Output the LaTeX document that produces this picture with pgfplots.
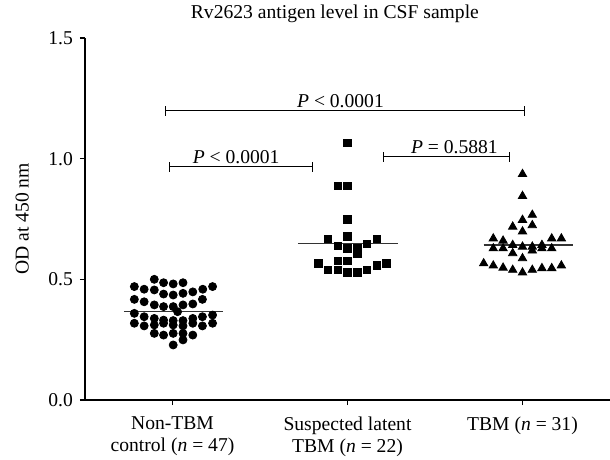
\documentclass[border=0pt]{standalone}
\usepackage{pgfplots}
\pgfplotsset{compat=1.18}
\usepackage{fontspec}
\setmainfont{Liberation Serif}
\begin{document}
\begin{tikzpicture}
\useasboundingbox (-42.5pt,-30pt) rectangle (262.5pt,200pt);
\begin{axis}[
  at={(0,0)}, anchor=south west,
  scale only axis, width=262.5pt, height=181pt,
  xmin=-0.5, xmax=2.5, ymin=0, ymax=1.5,
  axis x line*=bottom, axis y line*=left,
  axis line style={line width=0.6pt},
  tick align=outside, tick style={line width=0.6pt, black},
  major tick length=2.5pt,
  xtick={0,1,2},
  xticklabels={{Non-TBM\\control (\textit{n} = 47)},{Suspected latent\\TBM (\textit{n} = 22)},{TBM (\textit{n} = 31)}},
  xticklabel style={align=center, yshift=-2.5pt, font=\fontsize{9.8}{10.8}\selectfont},
  ytick={0,0.5,1,1.5},
  yticklabel style={/pgf/number format/fixed, /pgf/number format/precision=1, /pgf/number format/fixed zerofill, font=\fontsize{9.8}{10.8}\selectfont},
  /pgf/number format/assume math mode=true,
  ylabel={OD at 450 nm},
  ylabel style={font=\fontsize{9.8}{10.8}\selectfont, yshift=3pt},
  clip=false,
]
% Non-TBM control (n=47)
\addplot[only marks, mark=*, mark size=2pt, black] coordinates {
(-0.104,0.500) (-0.051,0.486) (0.004,0.481) (0.060,0.486) (-0.218,0.470)
(-0.162,0.459) (0.173,0.459) (0.229,0.470) (-0.104,0.456) (-0.051,0.439)
(0.004,0.435) (0.060,0.442) (0.116,0.448) (-0.218,0.417) (-0.162,0.407)
(0.171,0.417) (-0.104,0.394) (-0.051,0.387) (0.004,0.387) (0.060,0.394)
(0.116,0.398) (-0.218,0.359) (-0.162,0.345) (-0.104,0.338) (-0.051,0.331)
(0.004,0.329) (0.029,0.366) (0.060,0.329) (0.116,0.338) (0.171,0.345)
(0.229,0.352) (-0.218,0.318) (-0.162,0.307) (-0.104,0.311) (-0.051,0.318)
(0.004,0.311) (0.060,0.307) (0.116,0.318) (0.171,0.307) (0.229,0.318)
(-0.104,0.276) (-0.051,0.269) (0.004,0.276) (0.060,0.276) (0.116,0.269)
(0.060,0.249) (0.004,0.228)
};
% Suspected latent TBM (n=22)
\addplot[only marks, mark=square*, mark size=1.9pt, black] coordinates {
(1.000,1.066) (0.944,0.887) (1.000,0.887) (1.000,0.749) (0.889,0.667)
(1.000,0.677) (1.167,0.667) (0.944,0.638) (1.000,0.628) (1.056,0.628)
(1.111,0.646) (1.056,0.608) (0.833,0.566) (0.944,0.577) (1.000,0.577)
(1.222,0.566) (1.167,0.557) (0.889,0.539) (0.944,0.539) (1.000,0.528)
(1.056,0.528) (1.111,0.539)
};
% TBM (n=31)
\addplot[only marks, mark=triangle*, mark size=2.4pt, black] coordinates {
(2.000,0.936) (2.000,0.845) (2.056,0.767) (2.000,0.746) (1.944,0.718)
(2.056,0.724) (2.000,0.698) (1.833,0.669) (1.889,0.660) (1.944,0.642)
(2.000,0.635) (2.056,0.635) (2.111,0.642) (2.167,0.669) (2.222,0.669)
(1.833,0.628) (1.889,0.628) (1.944,0.608) (2.056,0.619) (2.111,0.628)
(2.167,0.628) (2.000,0.587) (1.778,0.566) (1.833,0.557) (1.889,0.548)
(1.944,0.539) (2.000,0.528) (2.056,0.539) (2.111,0.546) (2.167,0.546)
(2.222,0.557)
};
% medians
\addplot[black!80, line width=0.7pt] coordinates {(-0.278,0.366) (0.287,0.366)};
\addplot[black!80, line width=0.7pt] coordinates {(0.716,0.649) (1.289,0.649)};
\addplot[black!80, line width=0.7pt] coordinates {(1.778,0.642) (2.287,0.642)};
% brackets
\draw[line width=0.6pt] (axis cs:-0.04,1.198) -- (axis cs:2.01,1.198);
\draw[line width=0.6pt] ([yshift=-2.5pt]axis cs:-0.04,1.198) -- ([yshift=2.5pt]axis cs:-0.04,1.198);
\draw[line width=0.6pt] ([yshift=-2.5pt]axis cs:2.01,1.198) -- ([yshift=2.5pt]axis cs:2.01,1.198);
\node[anchor=base, inner sep=0pt, font=\fontsize{9.8}{10.8}\selectfont] at ([yshift=1.5pt]axis cs:0.96,1.198) {\textit{P} < 0.0001};
\draw[line width=0.6pt] (axis cs:-0.018,0.967) -- (axis cs:0.80,0.967);
\draw[line width=0.6pt] ([yshift=-2.5pt]axis cs:-0.018,0.967) -- ([yshift=2.5pt]axis cs:-0.018,0.967);
\draw[line width=0.6pt] ([yshift=-2.5pt]axis cs:0.80,0.967) -- ([yshift=2.5pt]axis cs:0.80,0.967);
\node[anchor=base, inner sep=0pt, font=\fontsize{9.8}{10.8}\selectfont] at ([yshift=1.5pt]axis cs:0.364,0.967) {\textit{P} < 0.0001};
\draw[line width=0.6pt] (axis cs:1.204,1.008) -- (axis cs:1.927,1.008);
\draw[line width=0.6pt] ([yshift=-2.5pt]axis cs:1.204,1.008) -- ([yshift=2.5pt]axis cs:1.204,1.008);
\draw[line width=0.6pt] ([yshift=-2.5pt]axis cs:1.927,1.008) -- ([yshift=2.5pt]axis cs:1.927,1.008);
\node[anchor=base, inner sep=0pt, font=\fontsize{9.8}{10.8}\selectfont] at ([yshift=1.5pt]axis cs:1.611,1.008) {\textit{P} = 0.5881};
% title
\node[anchor=center, inner sep=0pt, font=\fontsize{9.8}{10.8}\selectfont] at ([yshift=12pt]rel axis cs:0.476,1) {Rv2623 antigen level in CSF sample};
\end{axis}
\end{tikzpicture}
\end{document}
